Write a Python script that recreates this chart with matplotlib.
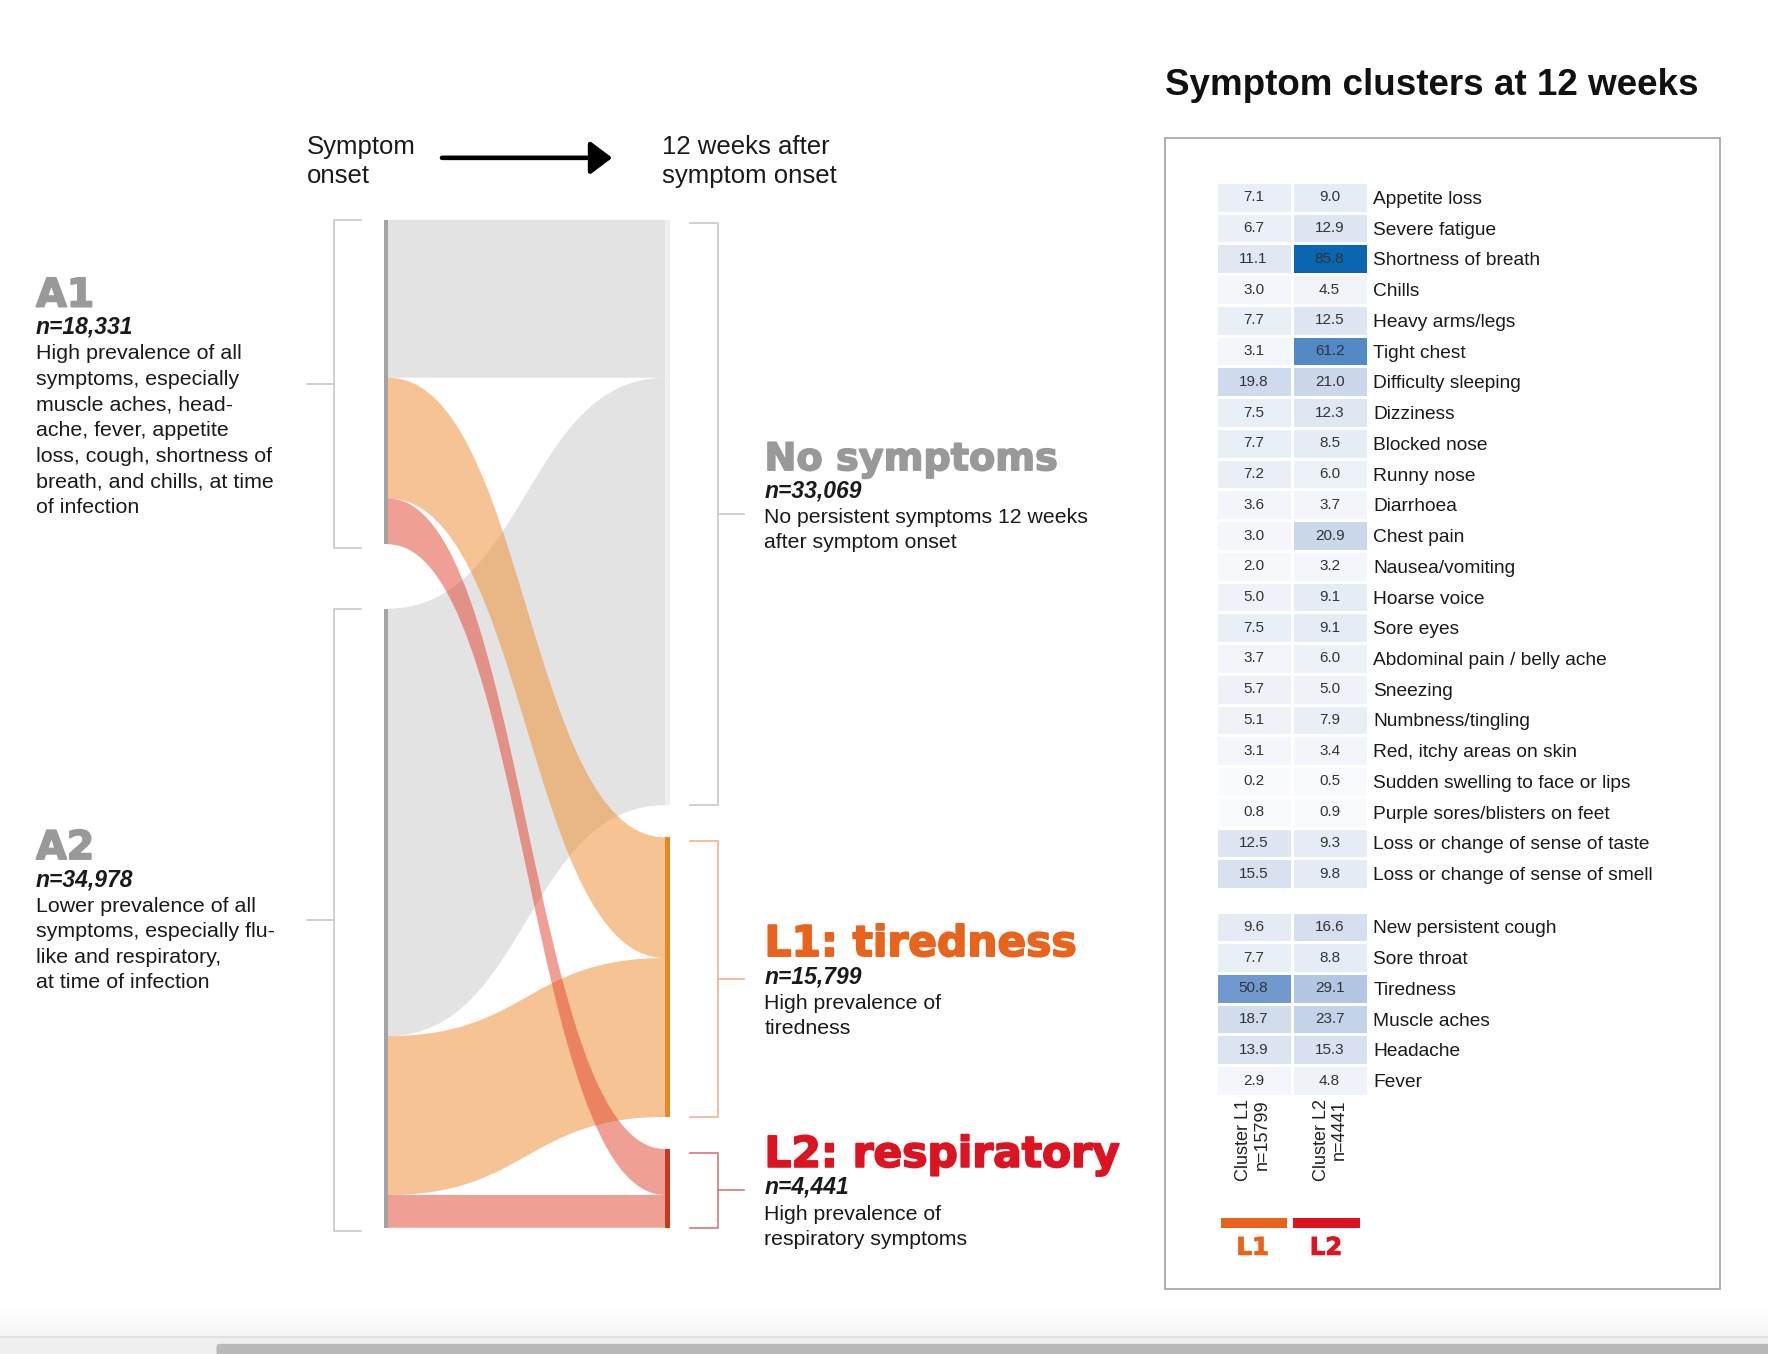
import numpy as np
import matplotlib
matplotlib.use("Agg")
import matplotlib.pyplot as plt
import matplotlib.patheffects as pe
from matplotlib.path import Path
from matplotlib.patches import PathPatch, Rectangle, FancyBboxPatch
from matplotlib.colors import LinearSegmentedColormap

plt.rcParams["font.family"] = "Liberation Sans"

# ---- data ----
# groups at symptom onset
onset_names = ["A1", "A2"]
onset_n = [18331, 34978]
onset_desc = [
    "High prevalence of all\nsymptoms, especially\nmuscle aches, head-\nache, fever, appetite\n"
    "loss, cough, shortness of\nbreath, and chills, at time\nof infection",
    "Lower prevalence of all\nsymptoms, especially flu-\nlike and respiratory,\nat time of infection",
]

# groups 12 weeks after onset
week12_names = ["No symptoms", "L1: tiredness", "L2: respiratory"]
week12_n = [33069, 15799, 4441]
week12_desc = [
    "No persistent symptoms 12 weeks\nafter symptom onset",
    "High prevalence of\ntiredness",
    "High prevalence of\nrespiratory symptoms",
]

# people going from A1 / A2 to (No symptoms, L1, L2)
flows_from_a1 = [8920, 6820, 2591]
flows_from_a2 = [24149, 8979, 1850]

# symptom prevalence (%) in cluster L1 and L2
symptoms_top = ["Appetite loss", "Severe fatigue", "Shortness of breath", "Chills",
                "Heavy arms/legs", "Tight chest", "Difficulty sleeping", "Dizziness",
                "Blocked nose", "Runny nose", "Diarrhoea", "Chest pain",
                "Nausea/vomiting", "Hoarse voice", "Sore eyes",
                "Abdominal pain / belly ache", "Sneezing", "Numbness/tingling",
                "Red, itchy areas on skin", "Sudden swelling to face or lips",
                "Purple sores/blisters on feet", "Loss or change of sense of taste",
                "Loss or change of sense of smell"]
l1_top = [7.1, 6.7, 11.1, 3.0, 7.7, 3.1, 19.8, 7.5, 7.7, 7.2, 3.6, 3.0, 2.0, 5.0,
          7.5, 3.7, 5.7, 5.1, 3.1, 0.2, 0.8, 12.5, 15.5]
l2_top = [9.0, 12.9, 85.8, 4.5, 12.5, 61.2, 21.0, 12.3, 8.5, 6.0, 3.7, 20.9, 3.2, 9.1,
          9.1, 6.0, 5.0, 7.9, 3.4, 0.5, 0.9, 9.3, 9.8]
symptoms_bottom = ["New persistent cough", "Sore throat", "Tiredness", "Muscle aches",
                   "Headache", "Fever"]
l1_bottom = [9.6, 7.7, 50.8, 18.7, 13.9, 2.9]
l2_bottom = [16.6, 8.8, 29.1, 23.7, 15.3, 4.8]

# ---- canvas ----
W, H = 1568, 1201
fig = plt.figure(figsize=(17.68, 13.54), dpi=100)
ax = fig.add_axes([0, 0, 1, 1])
ax.set_xlim(0, W)
ax.set_ylim(H, 0)
ax.axis("off")

PT = 100 / 72 / (1768 / W)   # canvas units per point
grey_txt = "#999999"
orange = "#e8641c"
red = "#dc1422"


def heading(x, y, s, fs, color, **kw):
    # DejaVu bold, thickened a bit to look like a black weight
    ax.text(x, y, s, fontsize=fs, color=color, va="baseline", family="DejaVu Sans",
            fontweight="bold",
            path_effects=[pe.withStroke(linewidth=1.3 * fs / 30, foreground=color)], **kw)


def para(x, y_base, s, fs, ls=1.44, **kw):
    # multi-line text whose first baseline sits at y_base
    ax.text(x, y_base - 0.72 * fs * PT, s, fontsize=fs, linespacing=ls, va="top",
            color="#1a1a1a", **kw)


# ---- sankey ----
x_left, x_right = 344, 590
y_top = 195
k = 837 / sum(onset_n)   # px per person
gap_left, gap_right = 57, 28.5

left_top = []
y = y_top
for n in onset_n:
    left_top.append(y)
    y += n * k + gap_left
right_top = []
y = y_top
for n in week12_n:
    right_top.append(y)
    y += n * k + gap_right

flow_colors = ["#e3e3e3", "#ef8a2a", "#e2412d"]
flow_alpha = [1.0, 0.5, 0.5]


def ribbon(y0, y1, h, color, alpha, z):
    xm = (x_left + x_right) / 2
    verts = [(x_left, y0), (xm, y0), (xm, y1), (x_right, y1),
             (x_right, y1 + h), (xm, y1 + h), (xm, y0 + h), (x_left, y0 + h),
             (x_left, y0)]
    codes = [Path.MOVETO] + [Path.CURVE4] * 3 + [Path.LINETO] + [Path.CURVE4] * 3 + [Path.CLOSEPOLY]
    ax.add_patch(PathPatch(Path(verts, codes), fc=color, ec="none", alpha=alpha, zorder=z))


ribbons = []
left_off = list(left_top)
right_off = list(right_top)
for i, row in enumerate([flows_from_a1, flows_from_a2]):
    for j, v in enumerate(row):
        h = v * k
        ribbons.append((j, left_off[i], right_off[j], h))
        left_off[i] += h
        right_off[j] += h

for j, y0, y1, h in sorted(ribbons, key=lambda r: r[0]):
    ribbon(y0, y1, h, flow_colors[j], flow_alpha[j], 2 + j)

# node bars
for top, n in zip(left_top, onset_n):
    ax.add_patch(Rectangle((340.5, top), 3.5, n * k, fc="#a3a3a3", ec="none", zorder=6))
for top, n, c in zip(right_top, week12_n, ["#efefef", "#e8891f", "#c43a20"]):
    ax.add_patch(Rectangle((590, top), 4, n * k, fc=c, ec="none", zorder=6))


def bracket(x, y0, y1, tick, mid, color):
    ax.plot([x + tick, x, x, x + tick], [y0, y0, y1, y1], color=color, lw=1.2)
    ax.plot([x, x + mid], [(y0 + y1) / 2] * 2, color=color, lw=1.2)


for top, n in zip(left_top, onset_n):
    bracket(296, top, top + n * k + 3, 24, -24, "#c8c8c8")
for top, n, c in zip(right_top, week12_n, ["#c8c8c8", "#f0b48c", "#d87878"]):
    bracket(637, top + 3, top + n * k, -25, 23, c)

# ---- texts of the sankey ----
para(272, 136, "Symptom\nonset", 18.5, ls=1.27)
para(587, 136, "12 weeks after\nsymptom onset", 18.5, ls=1.27)
ax.annotate("", xy=(543, 140), xytext=(392, 140),
            arrowprops=dict(arrowstyle="-|>,head_length=0.6,head_width=0.45", lw=3.3,
                            color="black", mutation_scale=22, shrinkA=0, shrinkB=0))

onset_base = [272, 762]
for name, n, desc, yb in zip(onset_names, onset_n, onset_desc, onset_base):
    heading(32, yb, name, 28.5, grey_txt)
    ax.text(32, yb + 24, f"n={n:,}", fontsize=16.5, fontweight="bold", fontstyle="italic",
            va="baseline", color="#1a1a1a")
    para(32, yb + 47, desc, 15.4)

week12_base = [417, 848, 1035]
week12_col = [grey_txt, orange, red]
week12_size = [27.5, 30.5, 30.5]
for name, n, desc, yb, c, fs in zip(week12_names, week12_n, week12_desc, week12_base,
                                     week12_col, week12_size):
    heading(678, yb, name, fs, c)
    ax.text(678, yb + 24, f"n={n:,}", fontsize=16.5, fontweight="bold", fontstyle="italic",
            va="baseline", color="#1a1a1a")
    para(678, yb + 47, desc, 15.3)

# ---- heatmap panel ----
ax.text(1033, 84, "Symptom clusters at 12 weeks", fontsize=26.5, fontweight="bold",
        va="baseline", color="#111111")
ax.add_patch(Rectangle((1033, 122), 492, 1021, fc="none", ec="#a8a8a8", lw=1.3))

row_px = 27.27
gap_rows = 0.73
hm_x0, hm_x1, hm_y0 = 1078, 1213, 161.4
n_top, n_bot = len(symptoms_top), len(symptoms_bottom)
edges = np.r_[np.arange(n_top + 1), n_top + gap_rows + np.arange(n_bot + 1)]
hm_y1 = hm_y0 + edges[-1] * row_px

ax_hm = fig.add_axes([hm_x0 / W, 1 - hm_y1 / H, (hm_x1 - hm_x0) / W, (hm_y1 - hm_y0) / H])
vals = np.array(list(zip(l1_top, l2_top)) + [(np.nan, np.nan)] + list(zip(l1_bottom, l2_bottom)))
vals = np.ma.masked_invalid(vals)
cmap = LinearSegmentedColormap.from_list(
    "blues", [(0, "#fafbfd"), (0.25, "#cad7eb"), (0.6, "#6e98cf"), (1, "#0a66b0")], N=256)
ax_hm.pcolormesh([0, 1, 2], edges, vals, cmap=cmap, vmin=0, vmax=86,
                 edgecolors="white", linewidth=1.0)
ax_hm.set_xlim(0, 2)
ax_hm.set_ylim(edges[-1], 0)

centers = (edges[:-1] + edges[1:]) / 2
keep = [r for r in range(len(centers)) if r != n_top]
labels = symptoms_top + symptoms_bottom
for r in keep:
    for c in range(2):
        ax_hm.text(c + 0.5, centers[r], f"{vals[r, c]:.1f}", ha="center", va="center",
                   fontsize=11, color="#333333")
ax_hm.yaxis.tick_right()
ax_hm.set_yticks(centers[keep])
ax_hm.set_yticklabels(labels, fontsize=13.8, color="#1a1a1a")
ax_hm.set_xticks([])
ax_hm.tick_params(axis="y", length=0, pad=4)
for s in ax_hm.spines.values():
    s.set_visible(False)

# column labels and cluster keys
ax.text(1111, 975, "Cluster L1\nn=15799", rotation=90, ha="center", va="top",
        multialignment="right", fontsize=13, linespacing=1.12, color="#222222")
ax.text(1180, 975, "Cluster L2\nn=4441", rotation=90, ha="center", va="top",
        multialignment="right", fontsize=13, linespacing=1.12, color="#222222")
ax.add_patch(Rectangle((1083, 1080), 58, 9, fc=orange, ec="none"))
ax.add_patch(Rectangle((1147, 1080), 59, 9, fc=red, ec="none"))
heading(1111, 1113, "L1", 17.5, orange, ha="center")
heading(1176, 1113, "L2", 17.5, red, ha="center")

# ---- browser scroll bar strip at the bottom ----
fade = LinearSegmentedColormap.from_list("fade", ["#ffffff", "#f6f6f6"])
ax.imshow(np.linspace(0, 1, 30).reshape(-1, 1), extent=[0, W, 1186, 1160], cmap=fade,
          aspect="auto", zorder=0)
ax.add_patch(Rectangle((0, 1186), W, 16, fc="#efefef", ec="none"))
ax.plot([0, W], [1186, 1186], color="#dcdcdc", lw=1.2)
ax.add_patch(FancyBboxPatch((192, 1192), W, 14, boxstyle="round,pad=0,rounding_size=3",
                            fc="#b9b9b9", ec="none"))
ax.set_xlim(0, W)
ax.set_ylim(H, 0)

fig.savefig("out.png", dpi=100)
